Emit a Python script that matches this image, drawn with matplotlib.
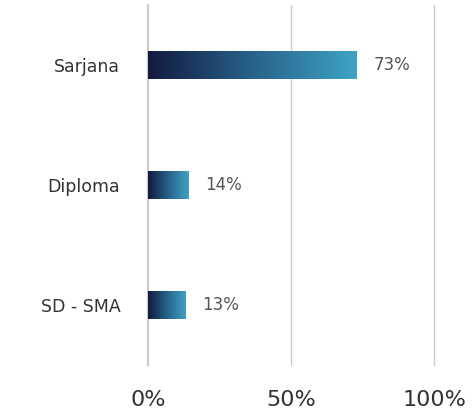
import matplotlib.pyplot as plt
import numpy as np
from matplotlib.colors import LinearSegmentedColormap

categories = ['Sarjana', 'Diploma', 'SD - SMA']
values = [73, 14, 13]
xticks = [0, 50, 100]
xtick_labels = ['0%', '50%', '100%']

plt.rcParams['font.family'] = ['DejaVu Sans']

fig = plt.figure(figsize=(4.76, 4.16), dpi=100)
ax = fig.add_axes([0.311, 0.123, 0.601, 0.865])

cmap = LinearSegmentedColormap.from_list('grad', ['#121a3e', '#28628a', '#3ea3c4'])
grad = np.linspace(0, 1, 256).reshape(1, -1)

y = np.arange(len(categories))
bar_h = 0.235
bars = ax.barh(y, values, height=bar_h, color='none', zorder=2)
for rect, v in zip(bars, values):
    x0, y0 = rect.get_x(), rect.get_y()
    w, h = rect.get_width(), rect.get_height()
    im = ax.imshow(grad, cmap=cmap, aspect='auto', extent=[x0, x0 + w, y0 + h, y0], zorder=2)
    im.set_clip_path(rect)
    ax.text(v + 6, rect.get_y() + h / 2, f'{v}%', va='center', ha='left',
            fontsize=12, color='#555555')

ax.set_xlim(0, 100)
ax.set_ylim(len(categories) - 0.5, -0.5)
ax.set_yticks(y)
ax.set_yticklabels(categories, fontsize=12.5, color='#333333')
ax.set_xticks(xticks)
ax.set_xticklabels(xtick_labels, fontsize=16, color='#333333')
ax.tick_params(axis='y', length=0, pad=20)
ax.tick_params(axis='x', length=0, pad=18)
for s in ax.spines.values():
    s.set_visible(False)
# vertical gridlines, the 0% one a bit heavier
for xv in xticks:
    lw = 1.6 if xv == 0 else 1
    ax.axvline(xv, color='#cccccc', linewidth=lw, zorder=1, clip_on=False)

fig.savefig('out.png', dpi=100)
